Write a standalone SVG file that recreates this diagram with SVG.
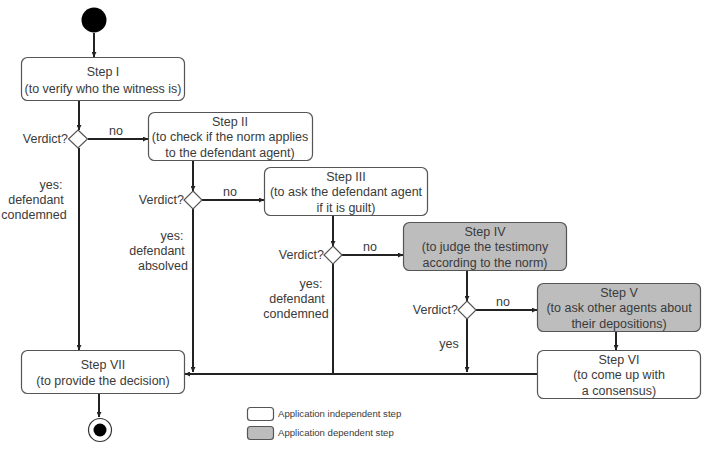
<svg xmlns="http://www.w3.org/2000/svg" width="706" height="456" viewBox="0 0 706 456">
<style>
text{font-family:"Liberation Sans",Arial,sans-serif;font-size:12.5px;fill:#3a3a3a}
.c{text-anchor:middle}
.e{text-anchor:end}
.box{fill:#fff;stroke:#555;stroke-width:1.2}
.dep{fill:#bdbdbd;stroke:#555;stroke-width:1.2}
.ln{stroke:#222;stroke-width:2;fill:none}
.dia{fill:#fff;stroke:#555;stroke-width:1.2}
.lg{font-size:9.6px}
</style>
<defs>
<marker id="ar" viewBox="0 0 10 10" refX="10" refY="5" markerWidth="5" markerHeight="5" orient="auto" markerUnits="userSpaceOnUse">
<path d="M0,0L10,5L0,10z" fill="#222"/>
</marker>
</defs>
<rect width="706" height="456" fill="#fff"/>
<g id="connectors">
<line class="ln" x1="94" y1="33" x2="94" y2="57" marker-end="url(#ar)"/>
<line class="ln" x1="79" y1="100" x2="79" y2="130" marker-end="url(#ar)"/>
<line class="ln" x1="88" y1="139" x2="148" y2="139" marker-end="url(#ar)"/>
<line class="ln" x1="79" y1="148" x2="79" y2="350" marker-end="url(#ar)"/>
<line class="ln" x1="193" y1="161" x2="193" y2="191" marker-end="url(#ar)"/>
<line class="ln" x1="202" y1="200" x2="264" y2="200" marker-end="url(#ar)"/>
<line class="ln" x1="193" y1="209" x2="193" y2="372" marker-end="url(#ar)"/>
<line class="ln" x1="333" y1="215" x2="333" y2="246" marker-end="url(#ar)"/>
<line class="ln" x1="342" y1="255" x2="403" y2="255" marker-end="url(#ar)"/>
<line class="ln" x1="333" y1="264" x2="333" y2="373"/>
<line class="ln" x1="467" y1="271" x2="467" y2="301" marker-end="url(#ar)"/>
<line class="ln" x1="476" y1="310" x2="537" y2="310" marker-end="url(#ar)"/>
<line class="ln" x1="467" y1="319" x2="467" y2="372" marker-end="url(#ar)"/>
<line class="ln" x1="616" y1="331" x2="616" y2="350" marker-end="url(#ar)"/>
<line class="ln" x1="537" y1="374" x2="185" y2="374" marker-end="url(#ar)"/>
<line class="ln" x1="99" y1="393" x2="99" y2="417" marker-end="url(#ar)"/>
</g>
<g id="start"><circle cx="94" cy="20" r="12.5" fill="#000"/></g>
<g id="step1">
<rect class="box" x="21.5" y="57.5" width="163" height="43" rx="6"/>
<text class="c" x="103" y="76">Step I</text>
<text class="c" x="103" y="93">(to verify who the witness is)</text>
</g>
<g id="d1">
<path class="dia" d="M78,130L87.5,139L78,148L68.5,139z"/>
<text class="e" x="68" y="143">Verdict?</text>
<text class="c" x="116" y="135">no</text>
<text class="c" x="51" y="189">yes:</text>
<text class="c" x="36" y="204">defendant</text>
<text class="c" x="34" y="219">condemned</text>
</g>
<g id="step2">
<rect class="box" x="148.5" y="112.5" width="164" height="48" rx="6"/>
<text class="c" x="230" y="126">Step II</text>
<text class="c" x="230" y="141">(to check if the norm applies</text>
<text class="c" x="230" y="157">to the defendant agent)</text>
</g>
<g id="d2">
<path class="dia" d="M193,191L202,200L193,209L184,200z"/>
<text class="e" x="184" y="204">Verdict?</text>
<text class="c" x="230" y="196">no</text>
<text class="c" x="172" y="240">yes:</text>
<text class="c" x="157" y="255">defendant</text>
<text class="c" x="163" y="270">absolved</text>
</g>
<g id="step3">
<rect class="box" x="264.5" y="167.5" width="163" height="48" rx="6"/>
<text class="c" x="346" y="181">Step III</text>
<text class="c" x="346" y="196">(to ask the defendant agent</text>
<text class="c" x="346" y="212">if it is guilt)</text>
</g>
<g id="d3">
<path class="dia" d="M333,246L342,255L333,264L324,255z"/>
<text class="e" x="324" y="259">Verdict?</text>
<text class="c" x="370" y="251">no</text>
<text class="c" x="311" y="288">yes:</text>
<text class="c" x="297" y="303">defendant</text>
<text class="c" x="296" y="318">condemned</text>
</g>
<g id="step4">
<rect class="dep" x="403.5" y="222.5" width="163" height="48" rx="6"/>
<text class="c" x="485" y="236">Step IV</text>
<text class="c" x="485" y="251">(to judge the testimony</text>
<text class="c" x="485" y="267">according to the norm)</text>
</g>
<g id="d4">
<path class="dia" d="M467,301L476,310L467,319L458,310z"/>
<text class="e" x="458" y="314">Verdict?</text>
<text class="c" x="503" y="306">no</text>
<text class="c" x="449" y="348">yes</text>
</g>
<g id="step5">
<rect class="dep" x="537.5" y="283.5" width="163" height="48" rx="6"/>
<text class="c" x="619" y="297">Step V</text>
<text class="c" x="619" y="312">(to ask other agents about</text>
<text class="c" x="619" y="328">their depositions)</text>
</g>
<g id="step6">
<rect class="box" x="537.5" y="350.5" width="163" height="48" rx="6"/>
<text class="c" x="619" y="364">Step VI</text>
<text class="c" x="619" y="379">(to come up with</text>
<text class="c" x="619" y="395">a consensus)</text>
</g>
<g id="step7">
<rect class="box" x="21.5" y="350.5" width="163" height="43" rx="6"/>
<text class="c" x="103" y="369">Step VII</text>
<text class="c" x="103" y="385">(to provide the decision)</text>
</g>
<g id="end">
<circle cx="100" cy="430" r="11.5" fill="#fff" stroke="#333" stroke-width="1.2"/>
<circle cx="100" cy="430" r="6.5" fill="#000"/>
</g>
<g id="legend">
<rect class="box" x="247.5" y="407.5" width="26" height="13" rx="3"/>
<text class="lg" x="278" y="417">Application independent step</text>
<rect class="dep" x="247.5" y="426.5" width="26" height="13" rx="3"/>
<text class="lg" x="278" y="436">Application dependent step</text>
</g>
</svg>
